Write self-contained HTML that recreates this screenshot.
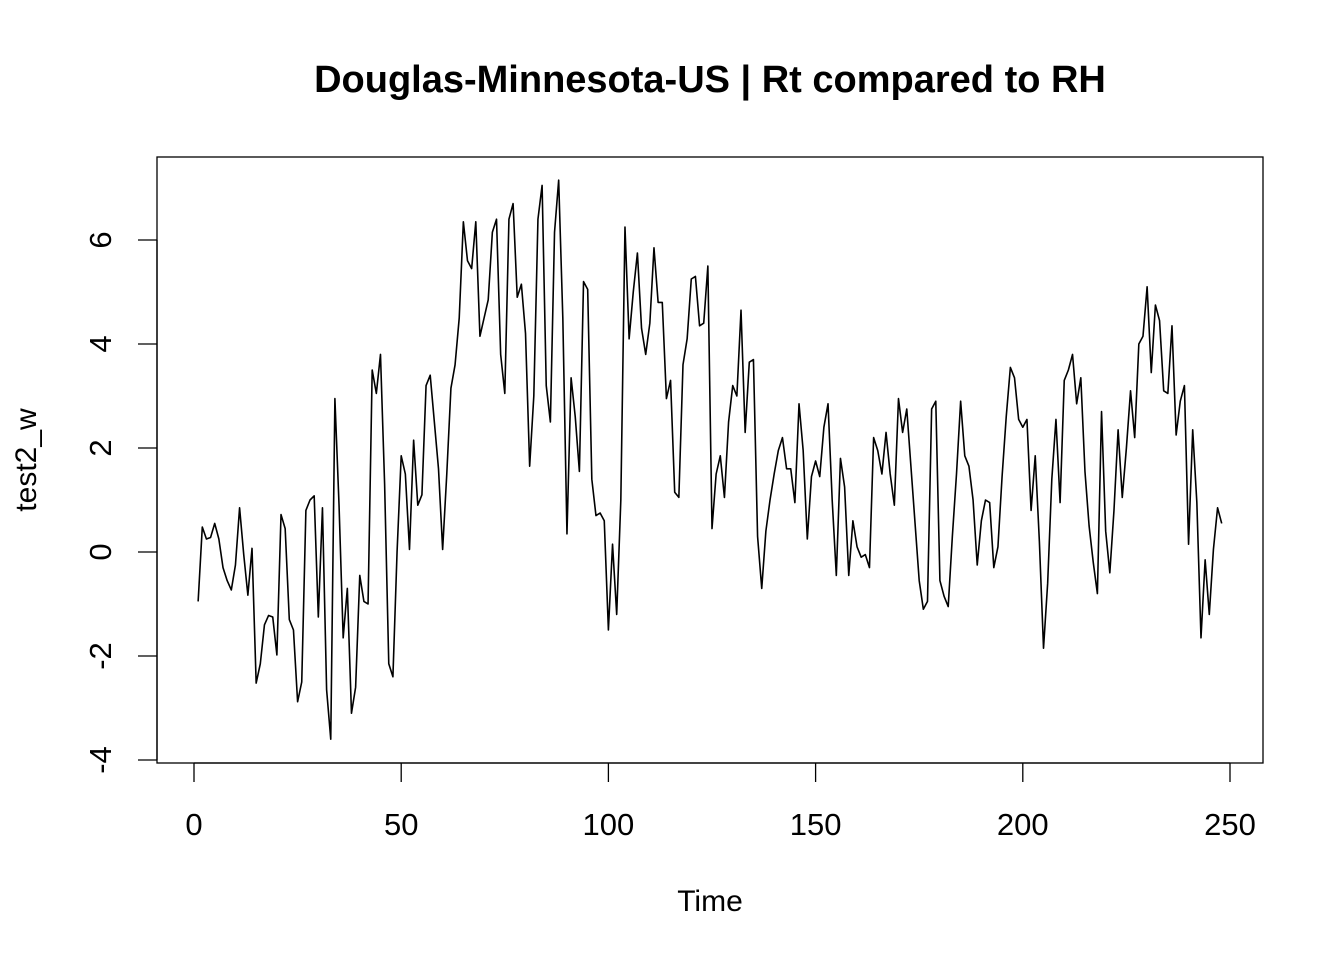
<!DOCTYPE html>
<html><head><meta charset="utf-8"><style>
html,body{margin:0;padding:0;background:#fff;}
svg text{font-family:"Liberation Sans",Arial,sans-serif;}
</style></head><body>
<svg id="chart" width="1344" height="960" xmlns="http://www.w3.org/2000/svg">
<rect width="1344" height="960" fill="#fff"/>
<text x="710" y="92" text-anchor="middle" font-size="38" font-weight="bold">Douglas-Minnesota-US | Rt compared to RH</text>
<rect x="157" y="157" width="1106" height="606" fill="none" stroke="#000" stroke-width="1.3"/>
<g id="xaxis"></g>
<g id="yaxis"></g>
<text x="710" y="911" text-anchor="middle" font-size="30">Time</text>
<text transform="translate(36,460) rotate(-90)" text-anchor="middle" font-size="30">test2_w</text>
<g id="series"></g>
</svg>
<script>
const values = [-0.95,0.48,0.25,0.28,0.55,0.25,-0.3,-0.55,-0.73,-0.25,0.85,-0.05,-0.83,0.07,-2.52,-2.15,-1.4,-1.22,-1.25,-1.98,0.72,0.45,-1.3,-1.5,-2.88,-2.5,0.8,1.0,1.08,-1.25,0.85,-2.65,-3.6,2.95,0.9,-1.65,-0.7,-3.1,-2.6,-0.45,-0.95,-1.0,3.5,3.05,3.8,1.3,-2.15,-2.4,0.0,1.85,1.5,0.05,2.15,0.9,1.1,3.2,3.4,2.5,1.6,0.05,1.5,3.15,3.6,4.5,6.35,5.6,5.45,6.35,4.15,4.5,4.85,6.15,6.4,3.8,3.05,6.4,6.7,4.9,5.15,4.2,1.65,3.0,6.4,7.05,3.2,2.5,6.15,7.15,4.5,0.35,3.35,2.6,1.55,5.2,5.05,1.4,0.7,0.75,0.6,-1.5,0.15,-1.2,1.0,6.25,4.1,5.0,5.75,4.3,3.8,4.4,5.85,4.8,4.8,2.95,3.3,1.15,1.05,3.6,4.1,5.25,5.3,4.35,4.4,5.5,0.45,1.5,1.85,1.05,2.5,3.2,3.0,4.65,2.3,3.65,3.7,0.3,-0.7,0.4,1.0,1.5,1.95,2.2,1.6,1.6,0.95,2.85,1.95,0.25,1.45,1.75,1.45,2.4,2.85,1.0,-0.45,1.8,1.25,-0.45,0.6,0.1,-0.1,-0.05,-0.3,2.2,1.95,1.5,2.3,1.5,0.9,2.95,2.3,2.75,1.65,0.55,-0.55,-1.1,-0.95,2.75,2.9,-0.55,-0.85,-1.05,0.3,1.5,2.9,1.85,1.65,1.0,-0.25,0.6,1.0,0.95,-0.3,0.1,1.45,2.6,3.55,3.35,2.55,2.4,2.55,0.8,1.85,0.2,-1.85,-0.6,1.4,2.55,0.95,3.3,3.5,3.8,2.85,3.35,1.55,0.5,-0.2,-0.8,2.7,0.4,-0.4,0.8,2.35,1.05,2.0,3.1,2.2,4.0,4.15,5.1,3.45,4.75,4.45,3.1,3.05,4.35,2.25,2.9,3.2,0.15,2.35,0.95,-1.65,-0.15,-1.2,0.05,0.85,0.55];
const xTicks = [0,50,100,150,200,250];
const yTicks = [-4,-2,0,2,4,6];
const NS='http://www.w3.org/2000/svg';
function xs(t){return 194 + t*(1230-194)/250;}
function ys(v){return 552 - v*52;}
const xg=document.getElementById('xaxis');
const base=document.createElementNS(NS,'line');
base.setAttribute('x1',xs(xTicks[0]));base.setAttribute('x2',xs(xTicks[xTicks.length-1]));
base.setAttribute('y1',763);base.setAttribute('y2',763);base.setAttribute('stroke','#000');base.setAttribute('stroke-width','1.3');


xg.appendChild(base);
xTicks.forEach(t=>{
  const l=document.createElementNS(NS,'line');
  l.setAttribute('x1',xs(t));l.setAttribute('x2',xs(t));l.setAttribute('y1',763);l.setAttribute('y2',782);l.setAttribute('stroke','#000');l.setAttribute('stroke-width','1.3');
  
  
  xg.appendChild(l);
  const tx=document.createElementNS(NS,'text');
  tx.setAttribute('x',xs(t));tx.setAttribute('y',835);tx.setAttribute('text-anchor','middle');tx.setAttribute('font-size','31');
  tx.textContent=t;
  
  
  xg.appendChild(tx);
});
const yg=document.getElementById('yaxis');
const yl=document.createElementNS(NS,'line');
yl.setAttribute('x1',157);yl.setAttribute('x2',157);yl.setAttribute('y1',ys(yTicks[0]));yl.setAttribute('y2',ys(yTicks[yTicks.length-1]));yl.setAttribute('stroke','#000');yl.setAttribute('stroke-width','1.3');


yg.appendChild(yl);
yTicks.forEach(v=>{
  const l=document.createElementNS(NS,'line');
  l.setAttribute('x1',138);l.setAttribute('x2',157);l.setAttribute('y1',ys(v));l.setAttribute('y2',ys(v));l.setAttribute('stroke','#000');l.setAttribute('stroke-width','1.3');
  
  
  yg.appendChild(l);
  const tx=document.createElementNS(NS,'text');
  tx.setAttribute('transform','translate(111,'+ys(v)+') rotate(-90)');tx.setAttribute('text-anchor','middle');tx.setAttribute('font-size','31');
  tx.textContent=v;
  
  
  yg.appendChild(tx);
});
const sg=document.getElementById('series');
const p=document.createElementNS(NS,'polyline');
p.setAttribute('points',values.map((v,i)=>xs(i+1).toFixed(2)+','+ys(v).toFixed(2)).join(' '));
p.setAttribute('fill','none');p.setAttribute('stroke','#000');p.setAttribute('stroke-width','1.6');p.setAttribute('stroke-linejoin','round');


sg.appendChild(p);
</script>
</body></html>
